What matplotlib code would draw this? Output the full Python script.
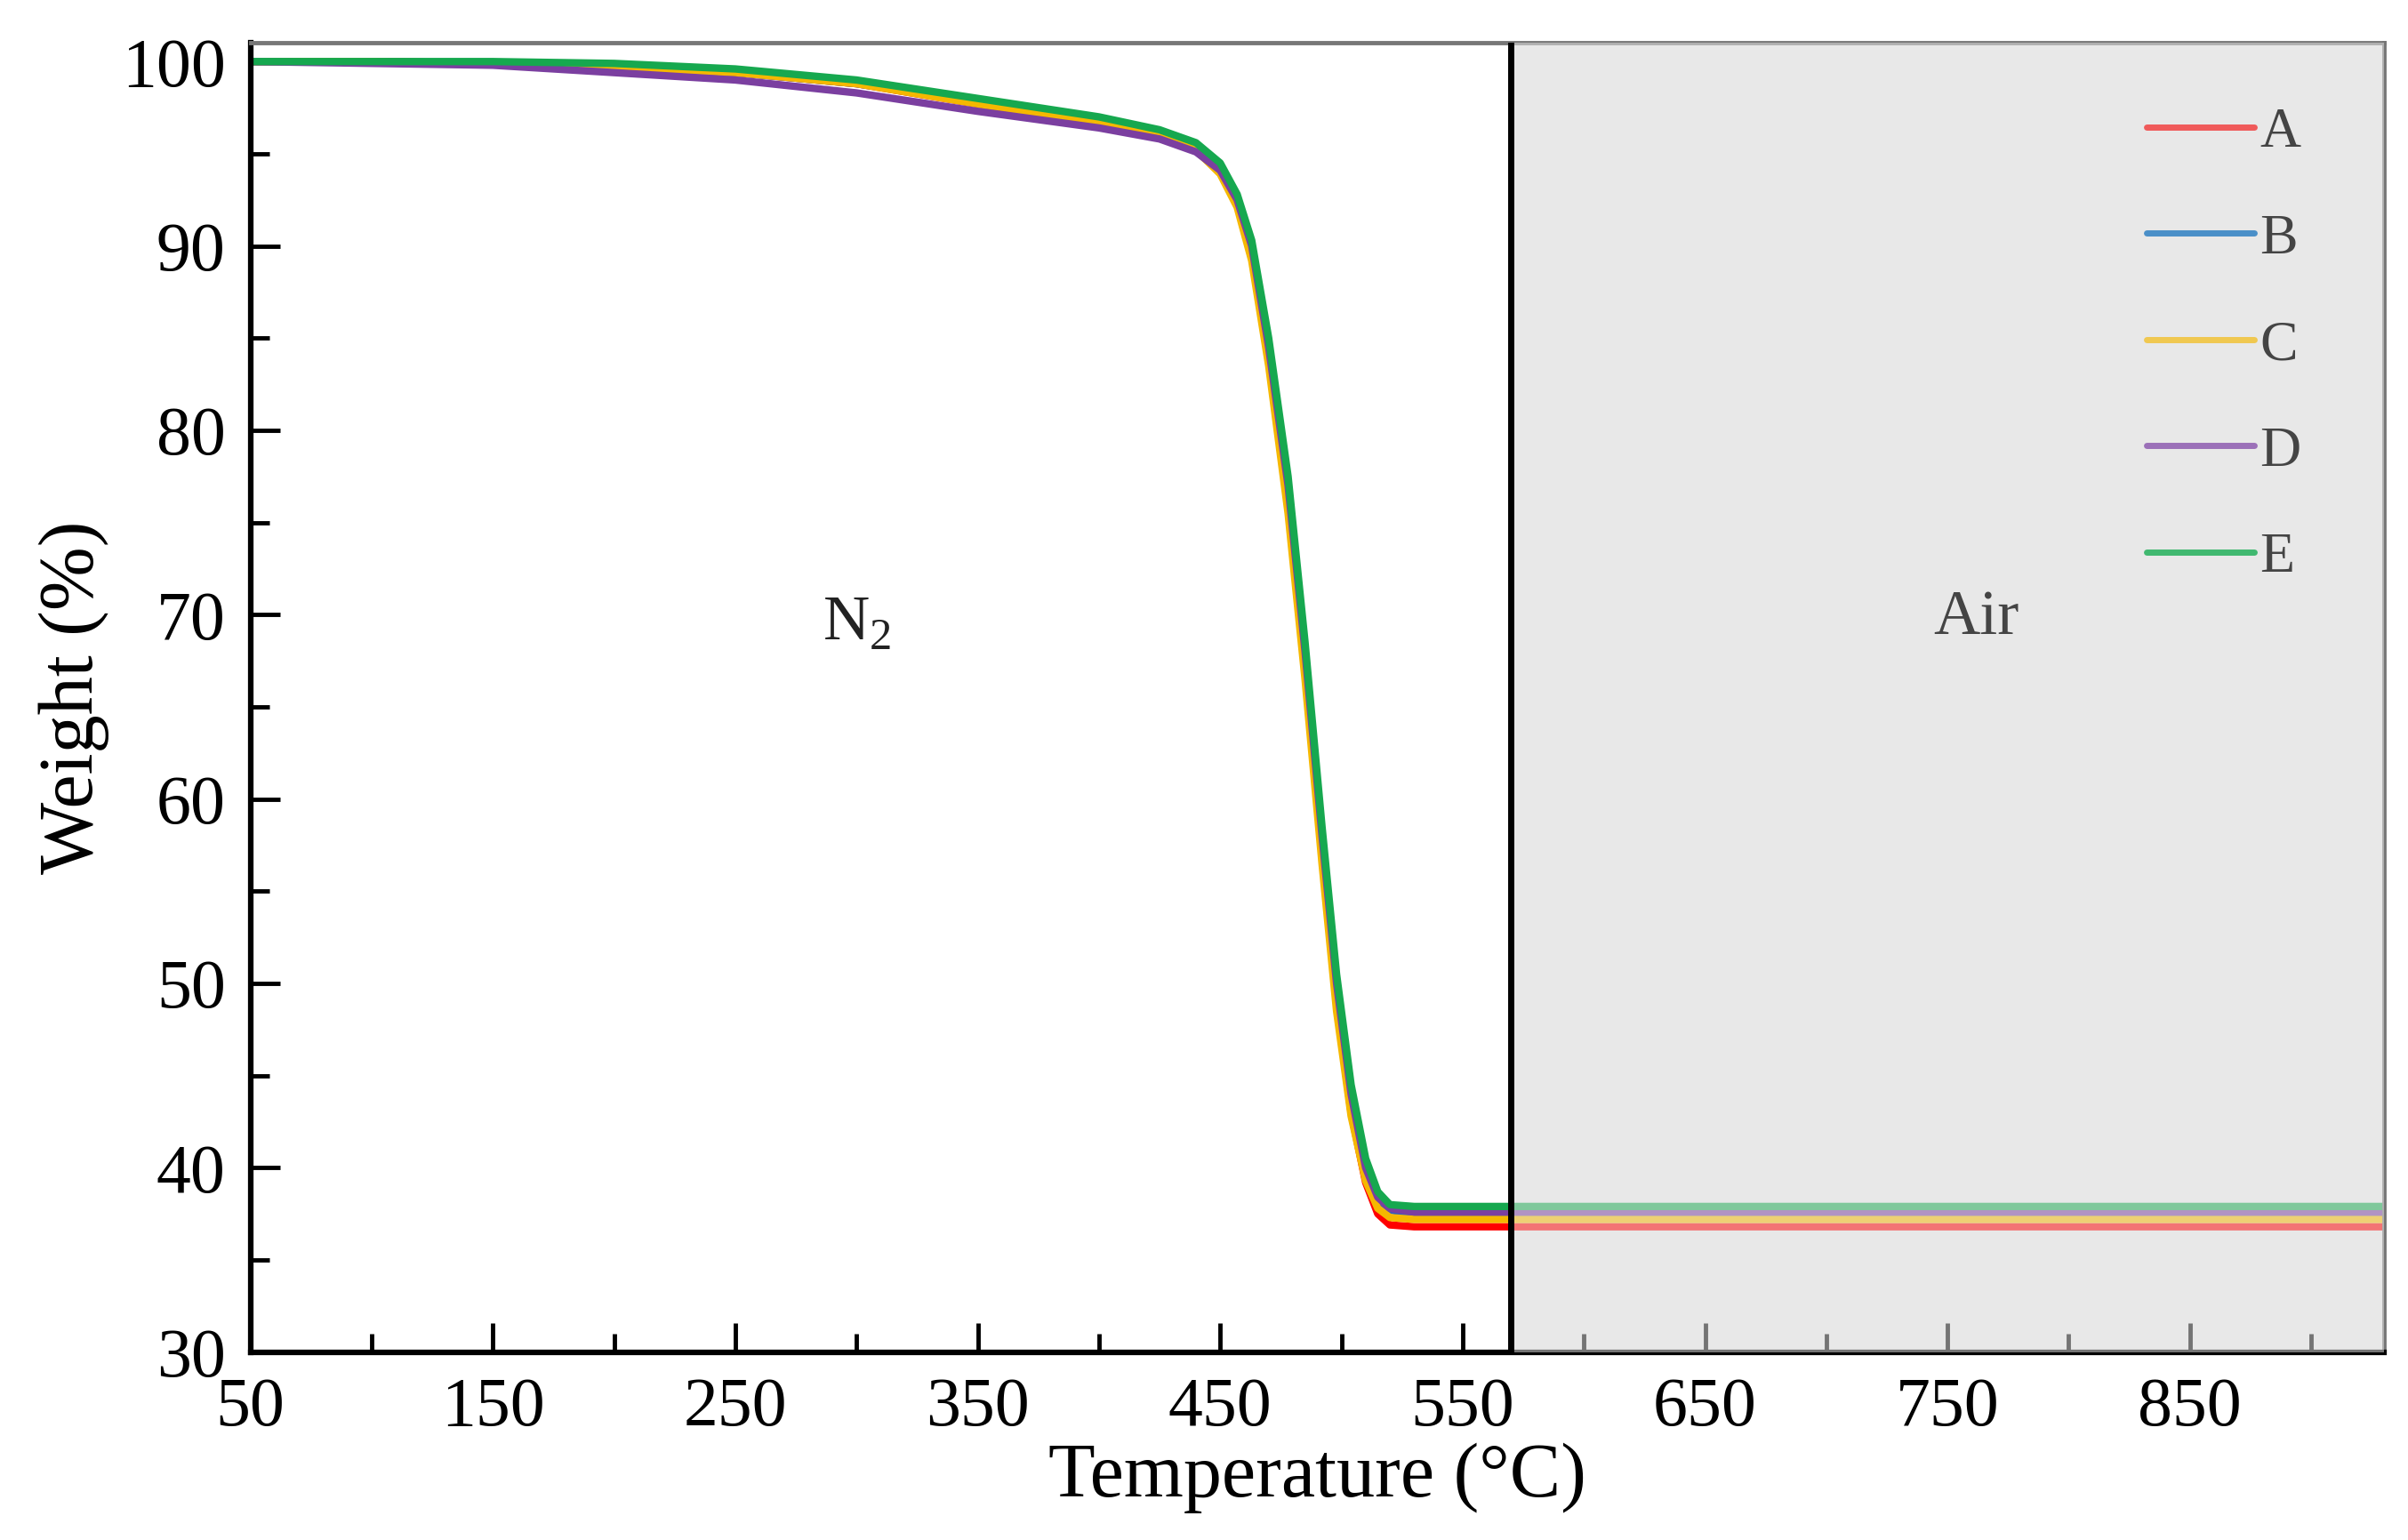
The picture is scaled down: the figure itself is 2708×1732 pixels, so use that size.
import numpy as np
import matplotlib.pyplot as plt

plt.rcParams['font.family'] = ['Liberation Serif', 'DejaVu Serif']
plt.rcParams['mathtext.fontset'] = 'custom'
plt.rcParams['mathtext.rm'] = 'Liberation Serif'

temp = [50, 100, 150, 200, 250, 300, 350, 400, 425, 440, 450, 457, 463, 470, 478, 485, 492,
        498, 504, 510, 515, 520, 530, 570, 930]
w_a = [100, 100, 99.9, 99.7, 99.4, 98.8, 97.7, 96.7, 96.0, 95.2, 94.0, 92.3, 89.5, 84, 76, 67, 57,
       49, 43, 39.2, 37.5, 36.9, 36.8, 36.8, 36.8]
w_b = [100, 100, 99.9, 99.7, 99.4, 98.8, 97.8, 96.8, 96.1, 95.4, 94.3, 92.6, 90, 84.5, 77, 68, 58,
       50, 44, 40, 38.3, 37.7, 37.5, 37.5, 37.5]
w_c = [100, 100, 99.9, 99.7, 99.4, 98.8, 97.7, 96.7, 96.0, 95.2, 93.9, 92.1, 89.2, 83.5, 75.5, 66.5, 56.5,
       48.5, 42.8, 39.3, 37.8, 37.3, 37.2, 37.2, 37.2]
w_d = [100, 99.9, 99.8, 99.4, 99.0, 98.3, 97.3, 96.4, 95.8, 95.1, 94.1, 92.5, 90, 84.5, 77, 68, 58,
       50, 44, 40, 38.4, 37.8, 37.6, 37.6, 37.6]
w_e = [100, 100, 100, 99.9, 99.6, 99.0, 98.0, 97.0, 96.3, 95.6, 94.5, 92.8, 90.3, 85, 77.5, 68.5, 58.5,
       50.5, 44.5, 40.5, 38.7, 38.0, 37.9, 37.9, 37.9]
labels = ['A', 'B', 'C', 'D', 'E']
colors = ['#ff0000', '#2e5fbf', '#f5b800', '#7b3fa0', '#16a84f']
legend_colors = ['#f05a5a', '#4a8fc8', '#f0c850', '#9b70b8', '#40b870']
xticks = [50, 150, 250, 350, 450, 550, 650, 750, 850]
yticks = [30, 40, 50, 60, 70, 80, 90, 100]

fig = plt.figure(figsize=(27.08, 17.32), dpi=100)
ax = fig.add_axes([0.104, 0.122, 0.886, 0.85])

series = [w_a, w_b, w_c, w_d, w_e]
for w, c in zip(series, colors):
    ax.plot(temp, w, color=c, lw=6, zorder=2)

# light overlay on the air region
ax.axvspan(570, 930, color='#e8e8e8', alpha=0.5, zorder=3, lw=0)
ax.axvspan(570, 930, color='#e8e8e8', zorder=0, lw=0)
ax.axvline(570, color='black', lw=5, zorder=4)

for lab, c in zip(labels, legend_colors):
    ax.plot([], [], color=c, lw=5, solid_capstyle='round', label=lab)
leg = ax.legend(loc='upper right', frameon=False, fontsize=46, handlelength=1.9,
                handletextpad=0.1, labelspacing=0.95, bbox_to_anchor=(0.985, 0.99))
for t in leg.get_texts():
    t.set_color('#444444')

ax.text(300, 69.5, 'N$_2$', fontsize=52, ha='center', va='center', color='#222222')
ax.text(762, 69.8, 'Air', fontsize=52, ha='center', va='center', color='#444444')

ax.set_xlim(50, 930)
ax.set_ylim(30, 101)
ax.set_xticks(xticks)
ax.set_xticks([100, 200, 300, 400, 500, 600, 700, 800, 900], minor=True)
ax.set_yticks(yticks)
ax.set_yticks([35, 45, 55, 65, 75, 85, 95], minor=True)
ax.tick_params(which='both', direction='in', width=3.5, labelsize=56, pad=20)
ax.tick_params(which='major', length=24)
ax.tick_params(which='minor', length=15)
ax.set_xlabel('Temperature (°C)', fontsize=62, labelpad=2)
ax.set_ylabel('Weight (%)', fontsize=62, labelpad=10)
for s in ['left', 'bottom']:
    ax.spines[s].set_linewidth(4.5)
for s in ['top', 'right']:
    ax.spines[s].set_linewidth(3.5)
    ax.spines[s].set_color('#777777')

fig.savefig('out.png', dpi=100)
